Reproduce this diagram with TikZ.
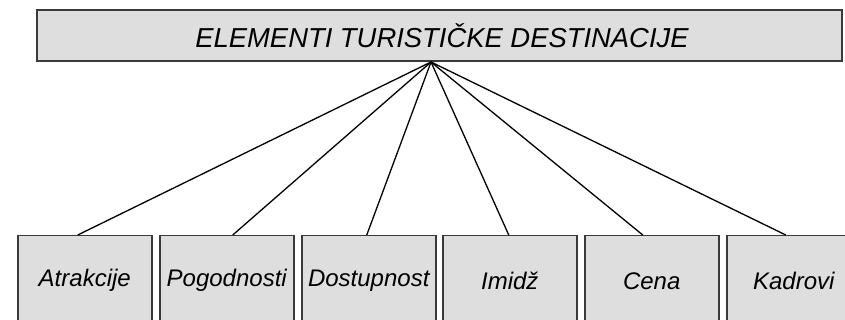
\documentclass[tikz,border=0pt]{standalone}
\usepackage{fontspec}
\setmainfont{Liberation Sans}
\definecolor{boxfill}{HTML}{DEDEDE}
\definecolor{boxline}{HTML}{3A3A3A}
\begin{document}
\begin{tikzpicture}[x=1pt,y=-1pt,
  topbox/.style={draw=boxline,fill=boxfill,line width=2pt,inner sep=0pt,
    minimum width=805pt,minimum height=51pt,anchor=north west,
    font=\fontsize{27.4}{30}\selectfont\itshape},
  elembox/.style={draw=boxline,fill=boxfill,line width=1.5pt,inner sep=0pt,
    minimum width=134pt,minimum height=90pt,anchor=north west,
    font=\fontsize{24}{28}\selectfont\itshape},
  link/.style={draw=black,line width=1.3pt}]
\clip (0,0) rectangle (845,320);
\fill[white] (0,0) rectangle (845,320);
\node[topbox] (top) at (36,9) {\hspace*{5pt}ELEMENTI TURISTIČKE DESTINACIJE};
\coordinate (apex) at ([xshift=-8.5pt]top.south);
\node[elembox] (b1) at (17,235) {Atrakcije};
\node[elembox] (b2) at (159,235) {Pogodnosti};
\node[elembox] (b3) at (301,235) {Dostupnost};
\node[elembox] (b4) at (442,235) {Imidž};
\node[elembox] (b5) at (584,235) {Cena};
\node[elembox] (b6) at (726,235) {Kadrovi};
\draw[link] (apex) -- ([xshift=-7pt]b1.north);
\draw[link] (apex) -- ([xshift=6pt]b2.north);
\draw[link] (apex) -- ([xshift=-2pt]b3.north);
\draw[link] (apex) -- ([xshift=-1pt]b4.north);
\draw[link] (apex) -- ([xshift=-9pt]b5.north);
\draw[link] (apex) -- ([xshift=-8pt]b6.north);
\end{tikzpicture}
\end{document}
